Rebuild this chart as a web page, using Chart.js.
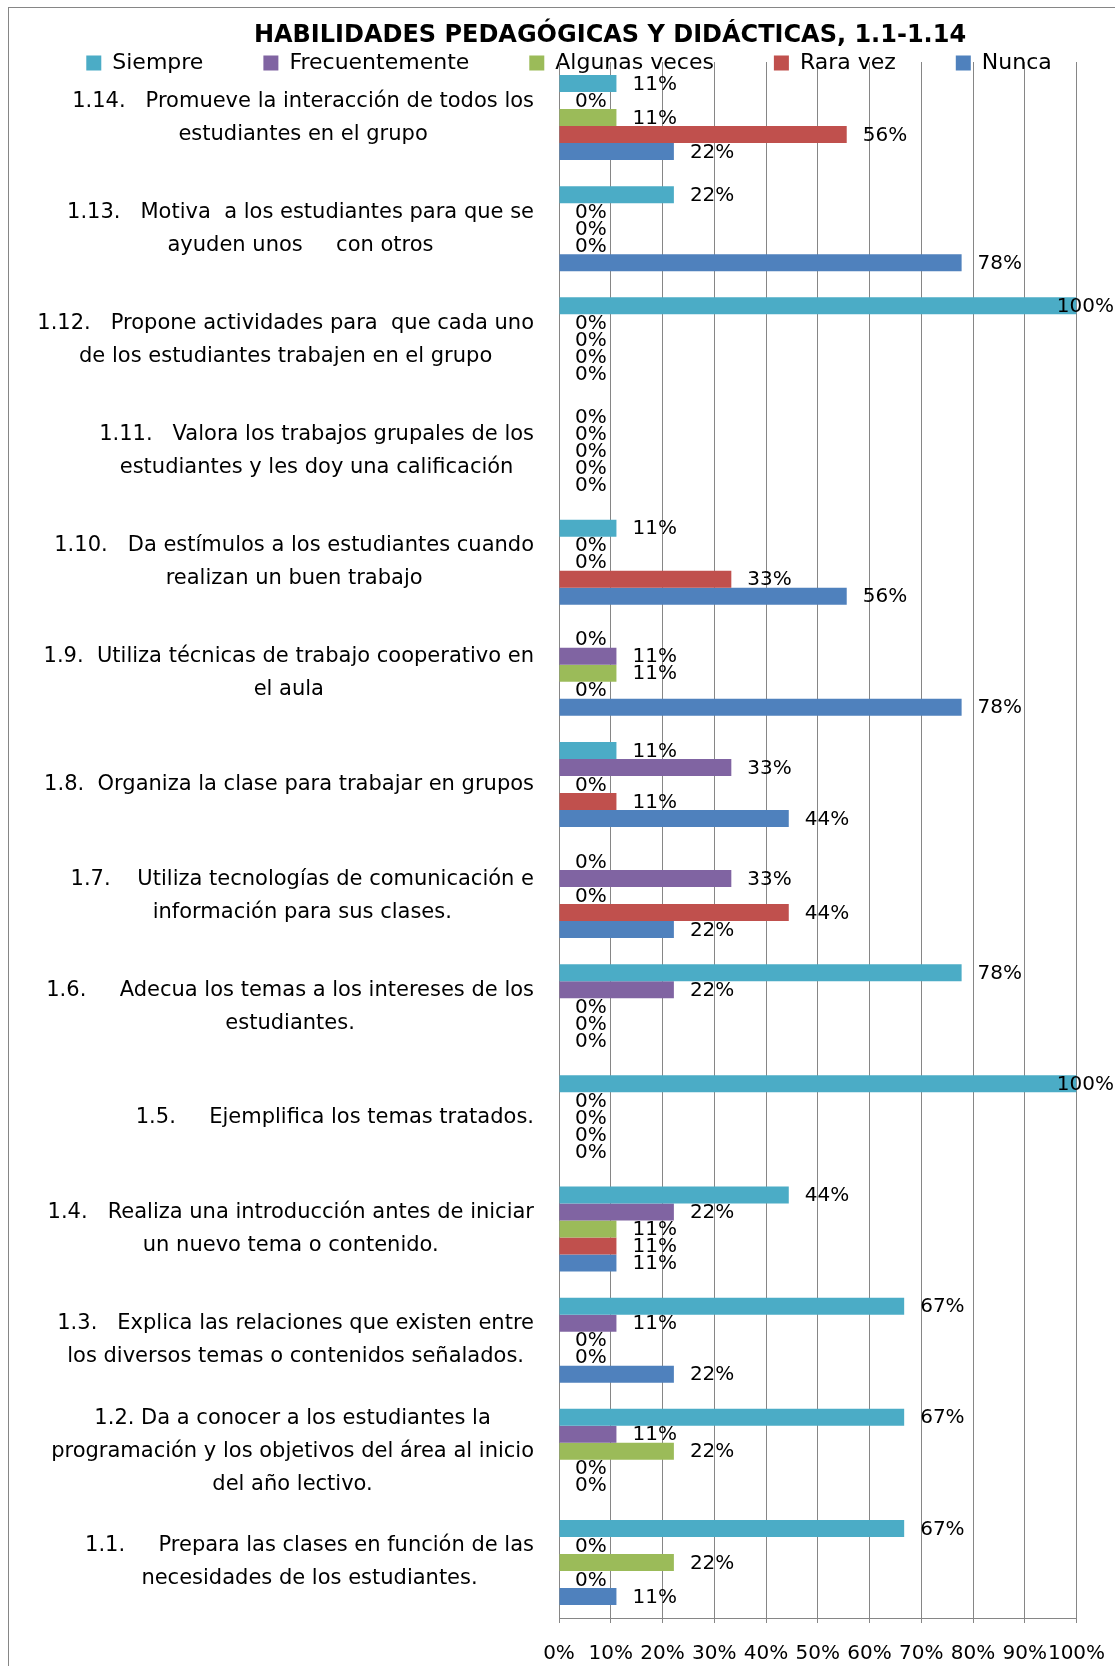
<!DOCTYPE html>
<html>
<head>
<meta charset="utf-8">
<script src="https://cdn.jsdelivr.net/npm/chart.js@4.4.1/dist/chart.umd.min.js"></script>
<style>
html, body { margin: 0; padding: 0; background: #fff; }
canvas { display: block; }
</style>
</head>
<body>
<canvas id="c" width="1115" height="1666"></canvas>
<script>
// ---------- data ----------
const categories = [
  ["1.14.   Promueve la interacción de todos los", "estudiantes en el grupo"],
  ["1.13.   Motiva  a los estudiantes para que se", "ayuden unos     con otros"],
  ["1.12.   Propone actividades para  que cada uno", "de los estudiantes trabajen en el grupo"],
  ["1.11.   Valora los trabajos grupales de los", "estudiantes y les doy una calificación"],
  ["1.10.   Da estímulos a los estudiantes cuando", "realizan un buen trabajo"],
  ["1.9.  Utiliza técnicas de trabajo cooperativo en", "el aula"],
  ["1.8.  Organiza la clase para trabajar en grupos"],
  ["1.7.    Utiliza tecnologías de comunicación e", "información para sus clases."],
  ["1.6.     Adecua los temas a los intereses de los", "estudiantes."],
  ["1.5.     Ejemplifica los temas tratados."],
  ["1.4.   Realiza una introducción antes de iniciar", "un nuevo tema o contenido."],
  ["1.3.   Explica las relaciones que existen entre", "los diversos temas o contenidos señalados."],
  ["1.2. Da a conocer a los estudiantes la", "programación y los objetivos del área al inicio", "del año lectivo."],
  ["1.1.     Prepara las clases en función de las", "necesidades de los estudiantes."]
];
const seriesNames = ["Siempre", "Frecuentemente", "Algunas veces", "Rara vez", "Nunca"];
const siempre        = [11.1, 22.2, 100, 0, 11.1, 0,    11.1, 0,    77.8, 100, 44.4, 66.7, 66.7, 66.7];
const frecuentemente = [0,    0,    0,   0, 0,    11.1, 33.3, 33.3, 22.2, 0,   22.2, 11.1, 11.1, 0];
const algunasVeces   = [11.1, 0,    0,   0, 0,    11.1, 0,    0,    0,    0,   11.1, 0,    22.2, 22.2];
const raraVez        = [55.6, 0,    0,   0, 33.3, 0,    11.1, 44.4, 0,    0,   11.1, 0,    0,    0];
const nunca          = [22.2, 77.8, 0,   0, 55.6, 77.8, 44.4, 22.2, 0,    0,   11.1, 22.2, 0,    11.1];
const xTickLabels = ["0%", "10%", "20%", "30%", "40%", "50%", "60%", "70%", "80%", "90%", "100%"];
const titleText = "HABILIDADES PEDAGÓGICAS Y DIDÁCTICAS, 1.1-1.14";

// ---------- styles ----------
const colors = ["#4BACC6", "#8064A2", "#9BBB59", "#C0504D", "#4F81BD"];
const GRID = "#868686";
const FONT = "'DejaVu Sans', sans-serif";
const PLOT_LEFT = 559;
const RIGHT_INSET = 38.5;
const X_AXIS_H = 48;
const Y_LABEL_GAP = 25;
const TITLE_CX = 610;
const LEGEND_CX = 569;
const LEGEND_Y = 52;
const LEGEND_PAD = 60;

Chart.defaults.font.family = FONT;
Chart.defaults.color = "#000";

const seriesData = [siempre, frecuentemente, algunasVeces, raraVez, nunca];

const layoutTweak = {
  id: "layoutTweak",
  beforeLayout(chart) {
    const lg = chart.legend;
    if (lg && !lg.__patched) {
      const fit = lg.fit;
      lg.fit = function () { fit.call(this); this.height = 12.2; };
      lg.__patched = true;
    }
  },
  afterLayout(chart) {
    const t = chart.titleBlock;
    if (t) { const d = TITLE_CX - (t.left + t.right) / 2; t.left += d; t.right += d; }
    const lg = chart.legend;
    if (lg) {
      const d = LEGEND_CX - (lg.left + lg.right) / 2;
      lg.left += d; lg.right += d;
      lg.top = LEGEND_Y - LEGEND_PAD;
      lg.bottom = LEGEND_Y + 40;
    }
    // each category label block: right-aligned block, lines centred within it
    const ys = chart.scales.y;
    if (ys && !ys.__alignPatched) {
      const orig = ys._computeLabelItems;
      ys._computeLabelItems = function (ca) {
        const items = orig.call(this, ca);
        const ctx = this.ctx;
        ctx.save();
        items.forEach((it) => {
          const lines = Array.isArray(it.label) ? it.label : [it.label];
          ctx.font = it.font.string;
          const w = Math.max(...lines.map((l) => ctx.measureText(l).width));
          it.options.translation[0] = this.right - Y_LABEL_GAP - w / 2;
        });
        ctx.restore();
        return items;
      };
      ys.__alignPatched = true;
      ys._labelItems = null;
    }
  }
};

const frame = {
  id: "frame",
  beforeDraw(chart) {
    const ctx = chart.ctx;
    ctx.save();
    ctx.fillStyle = "#fff";
    ctx.fillRect(0, 0, chart.width, chart.height);
    ctx.strokeStyle = GRID;
    ctx.lineWidth = 1;
    ctx.strokeRect(8.5, 7.5, chart.width + 20, chart.height + 20);
    ctx.restore();
  }
};

const valueLabels = {
  id: "valueLabels",
  afterDatasetsDraw(chart) {
    const ctx = chart.ctx;
    ctx.save();
    ctx.font = "20px " + FONT;
    ctx.fillStyle = "#000";
    ctx.textAlign = "left";
    ctx.textBaseline = "middle";
    chart.data.datasets.forEach((ds, di) => {
      const meta = chart.getDatasetMeta(di);
      meta.data.forEach((bar, i) => {
        const txt = Math.round(ds.data[i]) + "%";
        const w = ctx.measureText(txt).width;
        let x = bar.x + 16;
        if (x + w > chart.width - 1) x = chart.width - 1 - w;
        ctx.fillText(txt, x, bar.y + 1);
      });
    });
    ctx.restore();
  }
};

new Chart(document.getElementById("c"), {
  type: "bar",
  data: {
    labels: categories,
    datasets: seriesNames.map((name, i) => ({
      label: name,
      data: seriesData[i],
      backgroundColor: colors[i],
      borderWidth: 0,
      barPercentage: 1,
      categoryPercentage: 0.765
    }))
  },
  options: {
    indexAxis: "y",
    responsive: false,
    animation: false,
    events: [],
    layout: { padding: 0 },
    scales: {
      x: {
        type: "linear",
        position: "bottom",
        min: 0,
        max: 100,
        ticks: {
          stepSize: 10,
          autoSkip: false,
          maxRotation: 0,
          padding: 19,
          font: { size: 20 },
          color: "#000",
          callback: (v) => xTickLabels[Math.round(v / 10)]
        },
        grid: { color: GRID, lineWidth: 1, drawTicks: true, tickLength: 5, tickColor: GRID },
        border: { display: true, color: GRID, width: 1 },
        afterFit(scale) { scale.paddingRight = RIGHT_INSET; scale.height = X_AXIS_H; }
      },
      y: {
        type: "category",
        ticks: {
          autoSkip: false,
          crossAlign: "center",
          padding: Y_LABEL_GAP,
          font: { size: 21, lineHeight: 1.57 },
          color: "#000"
        },
        grid: { display: false },
        border: { display: true, color: GRID, width: 1 },
        afterFit(scale) {
          scale.width = PLOT_LEFT;
          scale.paddingTop = 0;
          scale.paddingBottom = 0;
        }
      }
    },
    plugins: {
      tooltip: { enabled: false },
      title: {
        display: true,
        text: titleText,
        color: "#000",
        font: { size: 24, weight: "bold", lineHeight: 1.2 },
        padding: { top: 21, bottom: 0 }
      },
      legend: {
        display: true,
        position: "top",
        labels: {
          color: "#000",
          font: { size: 22 },
          boxWidth: 15,
          boxHeight: 15,
          padding: LEGEND_PAD
        }
      }
    }
  },
  plugins: [frame, layoutTweak, valueLabels]
});
</script>
</body>
</html>
